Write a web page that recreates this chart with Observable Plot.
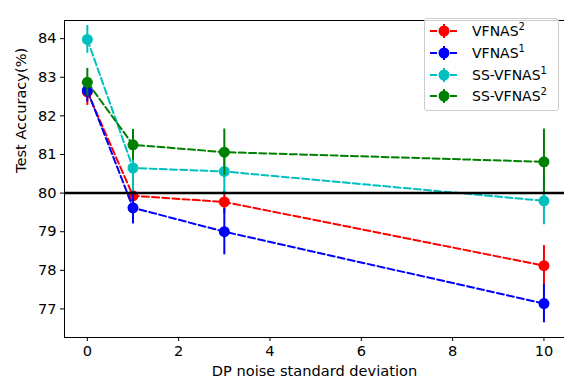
<!DOCTYPE html>
<html>
<head>
<meta charset="utf-8">
<script src="https://cdn.jsdelivr.net/npm/d3@7"></script>
<script src="https://cdn.jsdelivr.net/npm/@observablehq/plot@0.6"></script>
<style>
  html, body { margin: 0; padding: 0; background: #fff; }
  #wrap { position: relative; width: 564px; height: 381px; font-family: "DejaVu Sans", sans-serif; }
  #wrap svg text { font-family: "DejaVu Sans", sans-serif; }
  #legend { position: absolute; left: 424px; top: 18px; width: 135px; height: 93px;
    border: 1px solid #cccccc; border-radius: 3px; background: rgba(255,255,255,0.8); box-sizing: border-box; }
  .entry { position: absolute; left: 5px; height: 20px; display: flex; align-items: center; font-size: 14px; color: #000; white-space: nowrap; }
  .entry svg { margin-right: 14px; }
  .entry sup { font-size: 10px; vertical-align: 0; position: relative; top: -6px; }
</style>
</head>
<body>
<div id="wrap"><div id="legend"></div></div>
<script>
const noise = [0, 1, 3, 10];
const names = ["VFNAS2", "VFNAS1", "SS-VFNAS1", "SS-VFNAS2"];
const baseNames = ["VFNAS", "VFNAS", "SS-VFNAS", "SS-VFNAS"];
const supers = ["2", "1", "1", "2"];
const colors = ["#ff0000", "#0000ff", "#00bfbf", "#008000"];
const vfnas2 = [82.62, 79.93, 79.77, 78.12];
const vfnas2Err = [0.35, 0.40, 0.30, 0.52];
const vfnas1 = [82.66, 79.62, 79.00, 77.14];
const vfnas1Err = [0.30, 0.42, 0.60, 0.50];
const ssVfnas1 = [83.98, 80.65, 80.56, 79.80];
const ssVfnas1Err = [0.36, 0.62, 0.55, 0.62];
const ssVfnas2 = [82.87, 81.25, 81.06, 80.81];
const ssVfnas2Err = [0.36, 0.40, 0.60, 0.85];
const yTicks = [77, 78, 79, 80, 81, 82, 83, 84];
const xTicks = [0, 2, 4, 6, 8, 10];
const baseline = 80;
const xLabel = "DP noise standard deviation";
const yLabel = "Test Accuracy(%)";

const seriesVals = [vfnas2, vfnas1, ssVfnas1, ssVfnas2];
const seriesErr = [vfnas2Err, vfnas1Err, ssVfnas1Err, ssVfnas2Err];
const xDom = [-0.5, 10.45];
const yDom = [76.26, 84.47];
const FS = 14.6;

const marks = [];
seriesVals.forEach((vals, i) => {
  const rows = noise.map((x, j) => ({x, y: vals[j], lo: vals[j] - seriesErr[i][j], hi: vals[j] + seriesErr[i][j]}));
  marks.push(Plot.ruleX(rows, {x: "x", y1: "lo", y2: "hi", stroke: colors[i], strokeWidth: 2}));
  marks.push(Plot.line(rows, {x: "x", y: "y", stroke: colors[i], strokeWidth: 2, strokeDasharray: "7,3.2"}));
  marks.push(Plot.dot(rows, {x: "x", y: "y", r: 5.5, fill: colors[i], stroke: "none"}));
});

const chart = Plot.plot({
  width: 564,
  height: 381,
  marginTop: 20,
  marginLeft: 64,
  marginRight: 0,
  marginBottom: 44,
  style: {fontFamily: "DejaVu Sans, sans-serif", fontSize: FS + "px", color: "#000", background: "#fff"},
  x: {domain: xDom},
  y: {domain: yDom},
  marks: [
    Plot.axisX({ticks: xTicks, tickSize: 4, tickPadding: 4, label: null, fontSize: FS}),
    Plot.axisY({ticks: yTicks, tickSize: 4, tickPadding: 4, label: null, fontSize: FS}),
    Plot.ruleX([xDom[0]], {stroke: "#000", strokeWidth: 1}),
    Plot.ruleY([yDom[0], yDom[1]], {stroke: "#000", strokeWidth: 1}),
    ...marks,
    Plot.ruleY([baseline], {stroke: "#000", strokeWidth: 2.5}),
    Plot.text([yLabel], {frameAnchor: "left", dx: -43, dy: -6, rotate: -90, text: d => d, fontSize: FS, fill: "#000"}),
    Plot.text([xLabel], {frameAnchor: "bottom", dy: 38, text: d => d, fontSize: FS, fill: "#000"})
  ]
});
document.getElementById("wrap").prepend(chart);

const legend = document.getElementById("legend");
names.forEach((n, i) => {
  const e = document.createElement("div");
  e.className = "entry";
  e.style.top = (2 + i * 21.8) + "px";
  e.innerHTML = `<svg width="28" height="16"><line x1="0" y1="8" x2="28" y2="8" stroke="${colors[i]}" stroke-width="2" stroke-dasharray="7,3"/><line x1="14" y1="1" x2="14" y2="15" stroke="${colors[i]}" stroke-width="2"/><circle cx="14" cy="8" r="5.5" fill="${colors[i]}"/></svg><span>${baseNames[i]}<sup>${supers[i]}</sup></span>`;
  legend.appendChild(e);
});
</script>
</body>
</html>
